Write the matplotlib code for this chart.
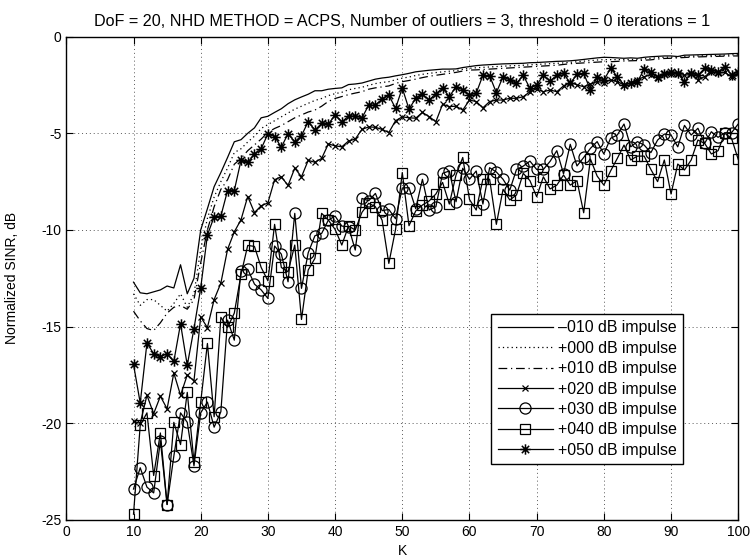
"""
Normalized SINR vs K -- impulse level comparison (ACPS, DoF = 20)
"""

import numpy as np
import matplotlib
matplotlib.use('Agg')
import matplotlib.pyplot as plt
from matplotlib.path import Path

plt.rcParams['font.family'] = ['Liberation Sans', 'DejaVu Sans']
plt.rcParams['axes.unicode_minus'] = False

# ── data ──────────────────────────────────────────────────────────────────

K = list(range(10, 101))

sinr_m10 = [-12.7, -13.25, -13.3, -13.2, -13.1, -12.9, -13.0, -11.8, -13.3, -12.5,
            -10.0, -8.9, -7.76, -7.03, -6.25, -5.44, -5.33, -5.0, -4.72, -4.2,
            -4.12, -3.92, -3.73, -3.47, -3.27, -3.12, -2.98, -2.8, -2.8, -2.72,
            -2.68, -2.65, -2.48, -2.45, -2.4, -2.3, -2.2, -2.14, -2.1, -2.03,
            -1.97, -1.9, -1.82, -1.78, -1.74, -1.71, -1.68, -1.68, -1.67, -1.6,
            -1.55, -1.5, -1.47, -1.45, -1.43, -1.41, -1.4, -1.39, -1.38, -1.35,
            -1.34, -1.32, -1.3, -1.28, -1.27, -1.25, -1.22, -1.18, -1.14, -1.1,
            -1.07, -1.08, -1.1, -1.12, -1.1, -1.12, -1.07, -1.04, -1.02, -1.0,
            -1.0, -1.03, -0.96, -0.95, -0.94, -0.93, -0.92, -0.91, -0.9, -0.88,
            -0.87]

sinr_p00 = [-13.3, -13.9, -13.6, -13.6, -13.9, -14.2, -13.8, -13.3, -14.0, -13.3,
            -11.0, -9.4, -8.3, -7.5, -6.8, -6.0, -5.8, -5.45, -5.15, -4.75,
            -4.55, -4.35, -4.15, -3.95, -3.75, -3.6, -3.45, -3.3, -3.2, -3.05,
            -2.95, -2.88, -2.75, -2.68, -2.62, -2.52, -2.43, -2.37, -2.33, -2.23,
            -2.15, -2.09, -2.01, -1.95, -1.9, -1.86, -1.82, -1.79, -1.76, -1.69,
            -1.64, -1.61, -1.59, -1.57, -1.55, -1.53, -1.51, -1.5, -1.48, -1.46,
            -1.44, -1.42, -1.4, -1.38, -1.36, -1.33, -1.3, -1.27, -1.24, -1.21,
            -1.19, -1.19, -1.19, -1.19, -1.18, -1.18, -1.15, -1.12, -1.09, -1.07,
            -1.06, -1.07, -1.02, -1.01, -1.0, -0.99, -0.98, -0.97, -0.96, -0.94,
            -0.94]

sinr_p10 = [-14.2, -14.7, -15.1, -15.2, -14.8, -14.3, -14.0, -13.9, -14.1, -13.6,
            -11.7, -10.0, -8.8, -7.9, -7.4, -6.6, -6.3, -5.9, -5.6, -5.3,
            -4.95, -4.75, -4.6, -4.4, -4.2, -4.05, -3.9, -3.8, -3.6, -3.35,
            -3.2, -3.1, -3.0, -2.92, -2.85, -2.72, -2.65, -2.6, -2.55, -2.42,
            -2.33, -2.27, -2.2, -2.12, -2.05, -2.0, -1.95, -1.9, -1.85, -1.78,
            -1.73, -1.72, -1.7, -1.68, -1.66, -1.64, -1.62, -1.6, -1.58, -1.56,
            -1.54, -1.52, -1.5, -1.48, -1.44, -1.4, -1.38, -1.36, -1.34, -1.32,
            -1.3, -1.3, -1.28, -1.26, -1.25, -1.24, -1.22, -1.2, -1.16, -1.13,
            -1.12, -1.1, -1.08, -1.06, -1.05, -1.04, -1.03, -1.02, -1.01, -1.0,
            -1.0]

sinr_p20 = [-19.9, -20.0, -18.55, -19.5, -18.6, -19.25, -17.4, -18.55, -17.5, -17.8,
            -14.5, -15.05, -13.6, -12.75, -11.0, -10.1, -9.47, -8.27, -9.1, -8.75,
            -8.6, -7.4, -7.25, -7.7, -6.8, -7.25, -6.4, -6.5, -6.3, -5.55,
            -5.65, -5.7, -5.4, -5.3, -4.8, -4.67, -4.69, -4.8, -4.96, -4.35,
            -4.15, -4.2, -4.22, -3.92, -4.14, -4.4, -3.5, -3.62, -3.6, -3.8,
            -3.28, -3.36, -3.68, -3.36, -3.28, -3.28, -3.19, -3.19, -3.11, -2.85,
            -2.7, -2.85, -2.76, -2.85, -2.55, -2.35, -2.5, -2.59, -2.45, -2.33,
            -2.38, -2.24, -2.33, -2.5, -2.4, -2.24, -2.07, -1.98, -2.16, -1.9,
            -1.92, -1.95, -2.0, -1.95, -2.24, -2.07, -1.81, -1.9, -1.85, -2.07,
            -1.9]

sinr_p30 = [-23.4, -22.3, -23.3, -23.6, -20.9, -24.2, -21.7, -19.46, -19.95, -22.2,
            -19.46, -18.9, -20.2, -19.4, -14.66, -15.7, -12.1, -12.03, -12.8, -13.1,
            -13.54, -10.83, -11.25, -12.68, -9.14, -13.02, -11.18, -10.3, -10.18, -9.49,
            -9.28, -9.8, -9.83, -11.04, -8.37, -8.49, -8.11, -9.0, -8.94, -9.42,
            -7.83, -7.81, -8.9, -7.38, -8.97, -8.8, -7.07, -6.95, -8.54, -6.81,
            -7.38, -6.95, -8.66, -6.78, -7.0, -7.38, -7.94, -6.87, -6.7, -6.44,
            -6.87, -6.87, -6.45, -5.9, -7.1, -5.57, -6.69, -6.25, -5.78, -5.43,
            -6.07, -5.26, -5.09, -4.52, -5.7, -5.43, -5.61, -6.0, -5.35, -5.04,
            -5.09, -5.7, -4.59, -5.09, -4.74, -5.52, -4.92, -5.21, -4.97, -4.97,
            -4.52]

sinr_p40 = [-24.7, -20.1, -19.46, -22.7, -20.5, -24.2, -19.95, -21.1, -18.4, -22.0,
            -18.9, -15.87, -19.66, -14.52, -15.04, -14.3, -12.3, -10.8, -10.85, -11.94,
            -12.63, -9.71, -11.94, -12.16, -10.78, -14.63, -12.07, -11.47, -9.14, -9.49,
            -9.97, -10.78, -9.8, -10.0, -9.09, -8.62, -8.8, -9.5, -11.73, -9.97,
            -7.03, -9.78, -9.02, -8.71, -8.5, -8.14, -7.54, -8.66, -7.16, -6.25,
            -8.42, -8.97, -7.38, -7.38, -9.71, -7.9, -8.45, -8.19, -7.07, -7.45,
            -8.28, -7.25, -7.88, -7.68, -7.16, -7.68, -7.45, -9.11, -6.33, -7.21,
            -7.68, -6.95, -6.3, -5.61, -6.38, -6.18, -6.18, -6.87, -7.5, -6.38,
            -8.14, -6.59, -6.9, -6.38, -5.35, -5.52, -6.07, -5.9, -5.0, -5.26,
            -6.35]

sinr_p50 = [-16.95, -18.95, -15.85, -16.4, -16.55, -16.4, -16.8, -14.85, -17.0, -15.1,
            -13.0, -10.26, -9.32, -9.28, -7.96, -7.96, -6.4, -6.5, -6.08, -5.8,
            -5.03, -5.17, -5.72, -5.02, -5.44, -5.12, -4.4, -4.83, -4.49, -4.52,
            -4.06, -4.4, -4.12, -4.1, -4.21, -3.54, -3.55, -3.23, -3.03, -3.71,
            -2.66, -3.75, -3.19, -2.99, -3.28, -2.95, -2.67, -3.1, -2.59, -2.76,
            -3.02, -2.93, -2.0, -2.02, -2.9, -2.07, -2.25, -2.42, -2.0, -2.67,
            -2.5, -2.0, -2.3, -2.0, -1.9, -2.42, -1.95, -1.9, -2.76, -2.1,
            -2.25, -1.64, -2.07, -2.5, -2.4, -2.33, -1.69, -1.85, -2.07, -1.95,
            -1.81, -1.9, -2.33, -1.9, -2.0, -1.64, -1.72, -1.85, -1.55, -1.98,
            -1.81]

labels = ['–010 dB impulse', '+000 dB impulse', '+010 dB impulse', '+020 dB impulse',
          '+030 dB impulse', '+040 dB impulse', '+050 dB impulse']

# Matlab style '*' marker (asterisk made of 4 strokes)
ang = np.deg2rad([90, 135, 0, 45])
verts, codes = [], []
for a in ang:
    verts += [(np.cos(a), np.sin(a)), (-np.cos(a), -np.sin(a))]
    codes += [Path.MOVETO, Path.LINETO]
asterisk = Path(verts, codes)

# ── plot ──────────────────────────────────────────────────────────────────

fig = plt.figure(figsize=(7.51, 5.59), dpi=100)
ax = fig.add_axes([0.0883, 0.0698, 0.8947, 0.8647])

lw = 0.9
ax.plot(K, sinr_m10, '-', color='k', lw=lw, label=labels[0])
ax.plot(K, sinr_p00, color='k', lw=lw, linestyle=(0, (1, 2.5)), label=labels[1])
ax.plot(K, sinr_p10, color='k', lw=lw, linestyle=(0, (7, 3, 1, 3)), label=labels[2])
ax.plot(K, sinr_p20, '-', color='k', lw=lw, marker='x', ms=5, mew=lw, label=labels[3])
ax.plot(K, sinr_p30, '-', color='k', lw=lw, marker='o', ms=8, mew=lw, mfc='none', label=labels[4])
ax.plot(K, sinr_p40, '-', color='k', lw=lw, marker='s', ms=6.5, mew=lw, mfc='none', label=labels[5])
ax.plot(K, sinr_p50, '-', color='k', lw=lw, marker=asterisk, ms=7.5, mew=1.1, mfc='none', label=labels[6])

ax.set_xlim(0, 100)
ax.set_ylim(-25, 0)
ax.set_xticks(range(0, 101, 10))
ax.set_yticks(range(-25, 1, 5))
ax.tick_params(direction='in', top=True, right=True, length=5, width=0.8, labelsize=10)
for s in ax.spines.values():
    s.set_linewidth(1.0)
ax.grid(True, color='0.35', linestyle=(0, (1, 3)), linewidth=0.7)

ax.set_title('DoF = 20, NHD METHOD = ACPS, Number of outliers = 3, threshold = 0 iterations = 1',
             fontsize=11.6, pad=8)
ax.set_xlabel('K', fontsize=10, labelpad=4)
ax.set_ylabel('Normalized SINR, dB', fontsize=10, labelpad=16)

leg = ax.legend(loc='upper right', bbox_to_anchor=(0.918, 0.426), fontsize=11.4,
                frameon=True, fancybox=False, edgecolor='k', framealpha=1,
                handlelength=3.5, handletextpad=0.3, labelspacing=0.34,
                borderpad=0.4, borderaxespad=0)
leg.get_frame().set_linewidth(1.0)

plt.savefig('out.png', dpi=100)
